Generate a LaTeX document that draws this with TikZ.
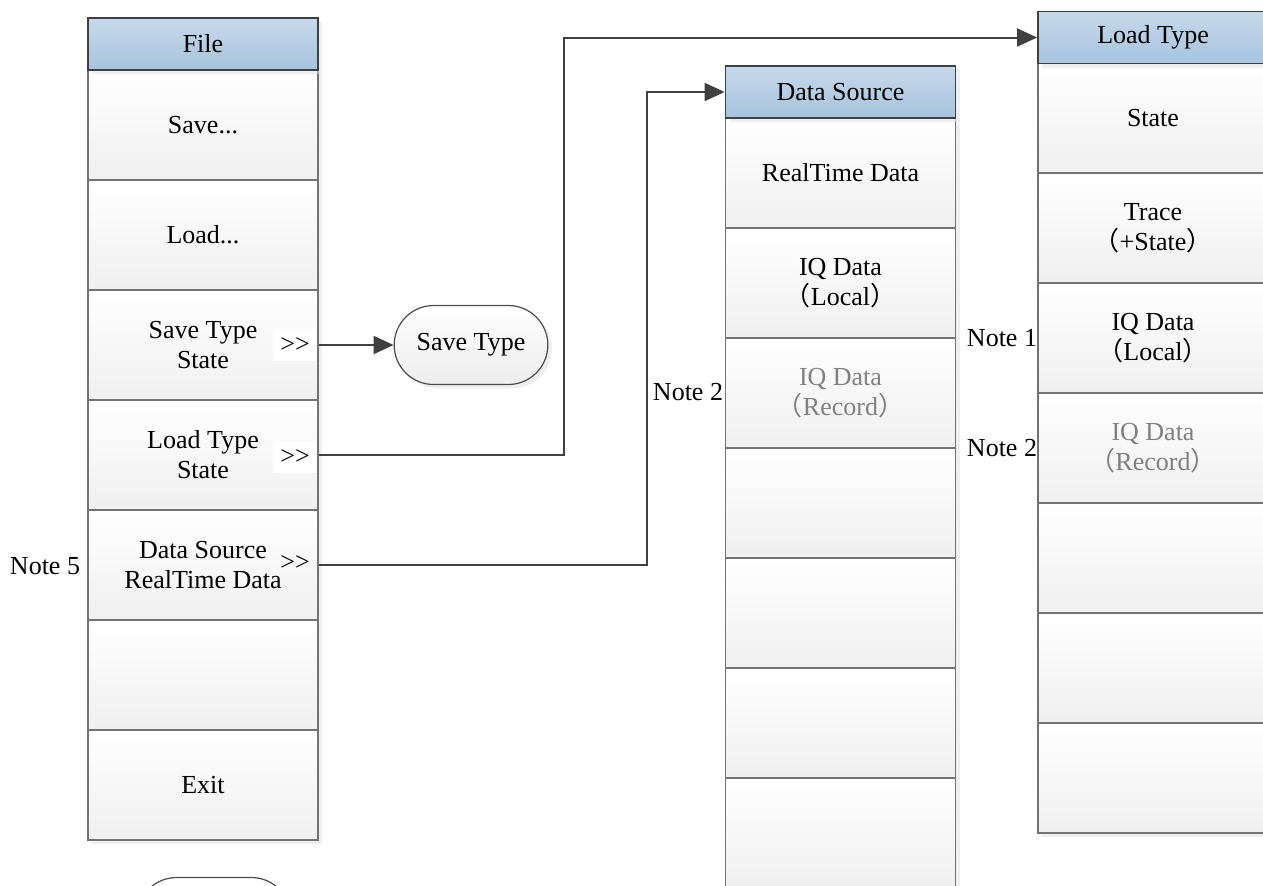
\documentclass[tikz,border=0pt]{standalone}
\usepackage{fontspec}
\setmainfont{Liberation Serif}
\newfontfamily\cjk{Noto Sans CJK SC}
\usetikzlibrary{arrows.meta, shapes.misc, shadows}
\definecolor{headtop}{HTML}{C6D9EB}
\definecolor{headbot}{HTML}{A7C3DE}
\newcommand{\lpar}{{\cjk （}}
\newcommand{\rpar}{{\cjk ）}}

\begin{document}
\begin{tikzpicture}[x=0.5pt, y=-0.5pt, font=\fontsize{13}{15}\selectfont,
  boxshadow/.style={drop shadow={shadow xshift=2pt, shadow yshift=-2pt, fill=black!12}},
  head/.style={draw=black!75, line width=0.9pt, top color=headtop, bottom color=headbot,
    minimum width=115pt, minimum height=26pt, boxshadow},
  cell/.style={draw=black!55, line width=0.6pt, top color=white, bottom color=black!6,
    minimum width=115pt, minimum height=55pt, align=center, boxshadow},
  pill/.style={rounded rectangle, draw=black!70, line width=0.6pt, top color=white,
    bottom color=black!7, minimum width=83.5pt, minimum height=39.5pt, boxshadow},
  more/.style={fill=white, inner sep=1pt, minimum width=22pt, minimum height=16pt},
  arr/.style={draw=black!75, line width=1pt, -{Triangle[width=9pt, length=10pt]}}]
  \clip (0,0) rectangle (1263,885);

  % File menu
  \foreach \i/\t in {1/{Save...}, 2/{Load...}, 3/{Save Type\\State}, 4/{Load Type\\State},
      5/{Data Source\\RealTime Data}, 6/{}, 7/Exit}
    \node[cell] (file\i) at (203,15+110*\i) {\t};
  \node[head] (file) at (203,44) {File};

  % Data Source menu
  \foreach \i/\t/\c in {1/RealTime Data/black, 2/{IQ Data\\\lpar Local\rpar}/black,
      3/{IQ Data\\\lpar Record\rpar}/black!50, 4//black, 5//black, 6//black, 7//black}
    \node[cell, text=\c] (src\i) at (840.5,63+110*\i) {\t};
  \node[head] (datasrc) at (840.5,92) {Data Source};

  % Load Type menu
  \foreach \i/\t/\c in {1/State/black, 2/{Trace\\\lpar+State\rpar}/black,
      3/{IQ Data\\\lpar Local\rpar}/black, 4/{IQ Data\\\lpar Record\rpar}/black!50,
      5//black, 6//black, 7//black}
    \node[cell, text=\c] (load\i) at (1153,8+110*\i) {\t};
  \node[head] (loadtype) at (1153,37.5) {Load Type};

  \node[pill] (savetype) at (471,345) {Save Type};
  \node[pill] (nextpill) at (214,917) {};

  \node[more] (more3) at (295,345) {>{}>};
  \node[more] (more4) at (295,457) {>{}>};
  \node[more, fill=none] (more5) at (295,563) {>{}>};

  \node (note5) at (45,566) {Note 5};
  \node (note2a) at (688,392) {Note 2};
  \node (note1) at (1002,338) {Note 1};
  \node (note2b) at (1002,448) {Note 2};

  \coordinate (ltbend) at (564,250);
  \coordinate (dsbend) at (647,300);
  \draw[arr] (file3.east) -- (savetype.west);
  \draw[arr] (file4.east) -| (ltbend) |- (loadtype.west);
  \draw[arr] (file5.east) -| (dsbend) |- (datasrc.west);
\end{tikzpicture}
\end{document}
